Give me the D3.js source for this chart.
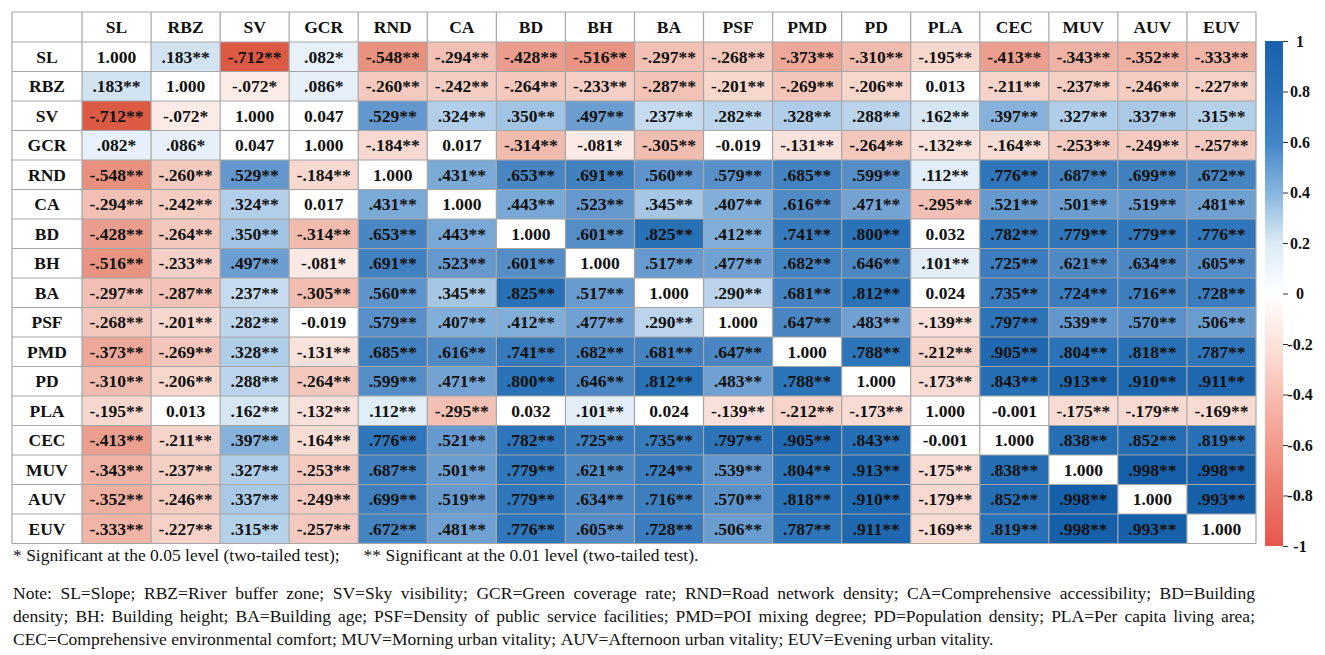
<!DOCTYPE html>
<html>
<head>
<meta charset="utf-8">
<script src="https://cdn.jsdelivr.net/npm/d3@7"></script>
<style>
  html, body { margin: 0; padding: 0; background: #fff; }
  svg { display: block; }
  svg text { font-family: 'Liberation Serif', 'Times New Roman', 'DejaVu Serif', serif; }
</style>
</head>
<body>
<svg id="chart" width="1325" height="655"></svg>
<script>
// variables, in table order
const variables = ["SL", "RBZ", "SV", "GCR", "RND", "CA", "BD", "BH", "BA", "PSF",
                   "PMD", "PD", "PLA", "CEC", "MUV", "AUV", "EUV"];

// correlation matrix (rows = variables)
const corr = [
  [1.000, 0.183, -0.712, 0.082, -0.548, -0.294, -0.428, -0.516, -0.297, -0.268, -0.373, -0.310, -0.195, -0.413, -0.343, -0.352, -0.333],
  [0.183, 1.000, -0.072, 0.086, -0.260, -0.242, -0.264, -0.233, -0.287, -0.201, -0.269, -0.206, 0.013, -0.211, -0.237, -0.246, -0.227],
  [-0.712, -0.072, 1.000, 0.047, 0.529, 0.324, 0.350, 0.497, 0.237, 0.282, 0.328, 0.288, 0.162, 0.397, 0.327, 0.337, 0.315],
  [0.082, 0.086, 0.047, 1.000, -0.184, 0.017, -0.314, -0.081, -0.305, -0.019, -0.131, -0.264, -0.132, -0.164, -0.253, -0.249, -0.257],
  [-0.548, -0.260, 0.529, -0.184, 1.000, 0.431, 0.653, 0.691, 0.560, 0.579, 0.685, 0.599, 0.112, 0.776, 0.687, 0.699, 0.672],
  [-0.294, -0.242, 0.324, 0.017, 0.431, 1.000, 0.443, 0.523, 0.345, 0.407, 0.616, 0.471, -0.295, 0.521, 0.501, 0.519, 0.481],
  [-0.428, -0.264, 0.350, -0.314, 0.653, 0.443, 1.000, 0.601, 0.825, 0.412, 0.741, 0.800, 0.032, 0.782, 0.779, 0.779, 0.776],
  [-0.516, -0.233, 0.497, -0.081, 0.691, 0.523, 0.601, 1.000, 0.517, 0.477, 0.682, 0.646, 0.101, 0.725, 0.621, 0.634, 0.605],
  [-0.297, -0.287, 0.237, -0.305, 0.560, 0.345, 0.825, 0.517, 1.000, 0.290, 0.681, 0.812, 0.024, 0.735, 0.724, 0.716, 0.728],
  [-0.268, -0.201, 0.282, -0.019, 0.579, 0.407, 0.412, 0.477, 0.290, 1.000, 0.647, 0.483, -0.139, 0.797, 0.539, 0.570, 0.506],
  [-0.373, -0.269, 0.328, -0.131, 0.685, 0.616, 0.741, 0.682, 0.681, 0.647, 1.000, 0.788, -0.212, 0.905, 0.804, 0.818, 0.787],
  [-0.310, -0.206, 0.288, -0.264, 0.599, 0.471, 0.800, 0.646, 0.812, 0.483, 0.788, 1.000, -0.173, 0.843, 0.913, 0.910, 0.911],
  [-0.195, 0.013, 0.162, -0.132, 0.112, -0.295, 0.032, 0.101, 0.024, -0.139, -0.212, -0.173, 1.000, -0.001, -0.175, -0.179, -0.169],
  [-0.413, -0.211, 0.397, -0.164, 0.776, 0.521, 0.782, 0.725, 0.735, 0.797, 0.905, 0.843, -0.001, 1.000, 0.838, 0.852, 0.819],
  [-0.343, -0.237, 0.327, -0.253, 0.687, 0.501, 0.779, 0.621, 0.724, 0.539, 0.804, 0.913, -0.175, 0.838, 1.000, 0.998, 0.998],
  [-0.352, -0.246, 0.337, -0.249, 0.699, 0.519, 0.779, 0.634, 0.716, 0.570, 0.818, 0.910, -0.179, 0.852, 0.998, 1.000, 0.993],
  [-0.333, -0.227, 0.315, -0.257, 0.672, 0.481, 0.776, 0.605, 0.728, 0.506, 0.787, 0.911, -0.169, 0.819, 0.998, 0.993, 1.000]
];

// significance stars per cell (0 = none, 1 = *, 2 = **)
const stars = [
  [0,2,2,1,2,2,2,2,2,2,2,2,2,2,2,2,2],
  [2,0,1,1,2,2,2,2,2,2,2,2,0,2,2,2,2],
  [2,1,0,0,2,2,2,2,2,2,2,2,2,2,2,2,2],
  [1,1,0,0,2,0,2,1,2,0,2,2,2,2,2,2,2],
  [2,2,2,2,0,2,2,2,2,2,2,2,2,2,2,2,2],
  [2,2,2,0,2,0,2,2,2,2,2,2,2,2,2,2,2],
  [2,2,2,2,2,2,0,2,2,2,2,2,0,2,2,2,2],
  [2,2,2,1,2,2,2,0,2,2,2,2,2,2,2,2,2],
  [2,2,2,2,2,2,2,2,0,2,2,2,0,2,2,2,2],
  [2,2,2,0,2,2,2,2,2,0,2,2,2,2,2,2,2],
  [2,2,2,2,2,2,2,2,2,2,0,2,2,2,2,2,2],
  [2,2,2,2,2,2,2,2,2,2,2,0,2,2,2,2,2],
  [2,0,2,2,2,2,0,2,0,2,2,2,0,0,2,2,2],
  [2,2,2,2,2,2,2,2,2,2,2,2,0,0,2,2,2],
  [2,2,2,2,2,2,2,2,2,2,2,2,2,2,0,2,2],
  [2,2,2,2,2,2,2,2,2,2,2,2,2,2,2,0,2],
  [2,2,2,2,2,2,2,2,2,2,2,2,2,2,2,2,0]
];

// colour bar ticks
const cbTicks = [1, 0.8, 0.6, 0.4, 0.2, 0, -0.2, -0.4, -0.6, -0.8, -1];

const footStar1 = "* Significant at the 0.05 level (two-tailed test);";
const footStar2 = "** Significant at the 0.01 level (two-tailed test).";
const noteLines = [
  "Note: SL=Slope; RBZ=River buffer zone; SV=Sky visibility; GCR=Green coverage rate; RND=Road network density; CA=Comprehensive accessibility; BD=Building",
  "density;  BH: Building height; BA=Building age; PSF=Density of public service facilities; PMD=POI mixing degree; PD=Population density; PLA=Per capita living area;",
  "CEC=Comprehensive environmental comfort; MUV=Morning urban vitality; AUV=Afternoon urban vitality; EUV=Evening urban vitality."
];

////// layout //////
const serif = "'Liberation Serif', 'Times New Roman', 'DejaVu Serif', serif";
const svg = d3.select("#chart").attr("font-family", serif);
const tblLeft = 12, tblTop = 12, labelW = 70, headH = 30;
const tblRight = 1256, tblBottom = 543.5;
const gridColor = "#a6a6a6";

const x = d3.scaleBand().domain(variables).range([tblLeft + labelW, tblRight]);
const y = d3.scaleBand().domain(variables).range([tblTop + headH, tblBottom]);

// cell colours
const cellColor = d3.scaleLinear()
  .domain([-1, -0.7, -0.55, -0.4, -0.3, -0.2, -0.07, 0, 0.08, 0.18, 0.32, 0.4, 0.53, 0.65, 0.8, 1])
  .range(["#d8503a", "#dc5a44", "#e8917e", "#eca090", "#f2bfb3", "#f7d7ce", "#fbebe7", "#ffffff",
          "#e8f1f9", "#d3e3f2", "#b4d0ea", "#84b0da", "#6497cd", "#4a86c3", "#2b73b8", "#1660aa"]);

// colour bar colours
const barColor = d3.scaleLinear()
  .domain([-1, -0.8, -0.6, -0.4, -0.2, 0, 0.2, 0.4, 0.6, 0.8, 1])
  .range(["#e8564c", "#ec766a", "#f29a8c", "#f8beb2", "#fde3db", "#ffffff",
          "#dbeaf6", "#86b5de", "#4286c6", "#2a70b8", "#1a60ab"]);

function fmt(v, s, i, j) {
  if (i === j) return "1.000";
  if (s > 0) return v.toFixed(3).replace("0.", ".") + "*".repeat(s);
  return v.toFixed(3);
}

const cells = [];
variables.forEach((rv, i) => variables.forEach((cv, j) => {
  cells.push({ row: rv, col: cv, v: corr[i][j], s: stars[i][j], i, j });
}));

svg.append("rect")
  .attr("x", tblLeft).attr("y", tblTop)
  .attr("width", tblRight - tblLeft).attr("height", tblBottom - tblTop)
  .attr("fill", "#fff");

const g = svg.append("g");

g.selectAll("rect.cell")
  .data(cells)
  .join("rect")
  .attr("class", "cell")
  .attr("x", d => x(d.col))
  .attr("y", d => y(d.row))
  .attr("width", x.bandwidth())
  .attr("height", y.bandwidth())
  .attr("fill", d => (d.i === d.j || d.s === 0) ? "#ffffff" : cellColor(d.v));

g.selectAll("text.val")
  .data(cells)
  .join("text")
  .attr("class", "val")
  .attr("x", d => x(d.col) + x.bandwidth() / 2)
  .attr("y", d => y(d.row) + y.bandwidth() / 2)
  .attr("dy", "0.35em")
  .attr("text-anchor", "middle")
  .attr("font-family", serif)
  .attr("font-size", 17.5)
  .attr("font-weight", "bold")
  .attr("fill", "#111")
  .text(d => fmt(d.v, d.s, d.i, d.j));

// column headers
g.selectAll("text.colhead")
  .data(variables)
  .join("text")
  .attr("class", "colhead")
  .attr("x", d => x(d) + x.bandwidth() / 2)
  .attr("y", tblTop + headH / 2)
  .attr("dy", "0.35em")
  .attr("text-anchor", "middle")
  .attr("font-family", serif)
  .attr("font-size", 17.5)
  .attr("font-weight", "bold")
  .attr("fill", "#111")
  .text(d => d);

// row headers
g.selectAll("text.rowhead")
  .data(variables)
  .join("text")
  .attr("class", "rowhead")
  .attr("x", tblLeft + labelW / 2)
  .attr("y", d => y(d) + y.bandwidth() / 2)
  .attr("dy", "0.35em")
  .attr("text-anchor", "middle")
  .attr("font-family", serif)
  .attr("font-size", 17.5)
  .attr("font-weight", "bold")
  .attr("fill", "#111")
  .text(d => d);

// grid lines
const vx = [tblLeft, tblLeft + labelW].concat(variables.map(v => x(v) + x.bandwidth()));
const hy = [tblTop, tblTop + headH].concat(variables.map(v => y(v) + y.bandwidth()));
g.selectAll("line.vg").data(vx).join("line")
  .attr("x1", d => d).attr("x2", d => d)
  .attr("y1", tblTop).attr("y2", tblBottom)
  .attr("stroke", gridColor).attr("stroke-width", 1.2);
g.selectAll("line.hg").data(hy).join("line")
  .attr("x1", tblLeft).attr("x2", tblRight)
  .attr("y1", d => d).attr("y2", d => d)
  .attr("stroke", gridColor).attr("stroke-width", 1.2);

////// colour bar //////
const cbX = 1265, cbW = 18;
const cbScale = d3.scaleLinear().domain([-1, 1]).range([546, 41]);

const defs = svg.append("defs");
const grad = defs.append("linearGradient")
  .attr("id", "cbgrad")
  .attr("x1", "0").attr("y1", "1").attr("x2", "0").attr("y2", "0");
d3.range(0, 1.0001, 0.05).forEach(t => {
  grad.append("stop")
    .attr("offset", t)
    .attr("stop-color", barColor(-1 + 2 * t));
});

svg.append("rect")
  .attr("x", cbX).attr("y", cbScale(1))
  .attr("width", cbW).attr("height", cbScale(-1) - cbScale(1))
  .attr("fill", "url(#cbgrad)");

const cbAxis = d3.axisRight(cbScale)
  .tickValues(cbTicks)
  .tickSize(5)
  .tickFormat(d => String(+d.toFixed(1)));

const cbG = svg.append("g")
  .attr("transform", `translate(${cbX + cbW},0)`)
  .call(cbAxis)
  .attr("font-family", serif);
cbG.select(".domain").remove();
cbG.selectAll(".tick line").attr("stroke", "#333");
cbG.selectAll(".tick text")
  .attr("x", 17)
  .attr("text-anchor", "middle")
  .attr("font-family", serif)
  .attr("font-size", 16)
  .attr("font-weight", "bold")
  .attr("fill", "#111");

////// footnotes //////
const noteSize = 17.5, noteLeft = 13, noteRight = 1255;
const foot1 = svg.append("text")
  .attr("x", noteLeft).attr("y", 561)
  .attr("font-family", serif)
  .attr("font-size", noteSize)
  .attr("fill", "#111")
  .text(footStar1);
const foot1W = foot1.node().getComputedTextLength();
svg.append("text")
  .attr("x", noteLeft + foot1W + 24).attr("y", 561)
  .attr("font-family", serif)
  .attr("font-size", noteSize)
  .attr("fill", "#111")
  .text(footStar2);

// justified note lines
const noteY = [599, 622, 645];
noteLines.forEach((line, li) => {
  const words = line.split(/\s+/);
  const tg = svg.append("g");
  const nodes = words.map(w => tg.append("text")
    .attr("font-family", serif)
    .attr("font-size", noteSize)
    .attr("fill", "#111")
    .attr("y", noteY[li])
    .text(w));
  const widths = nodes.map(n => n.node().getComputedTextLength());
  const total = d3.sum(widths);
  const justify = li < noteLines.length - 1;
  const gap = justify ? (noteRight - noteLeft - total) / (words.length - 1) : noteSize * 0.25;
  let cx = noteLeft;
  nodes.forEach((n, k) => {
    n.attr("x", cx);
    cx += widths[k] + gap;
  });
});
</script>
</body>
</html>
